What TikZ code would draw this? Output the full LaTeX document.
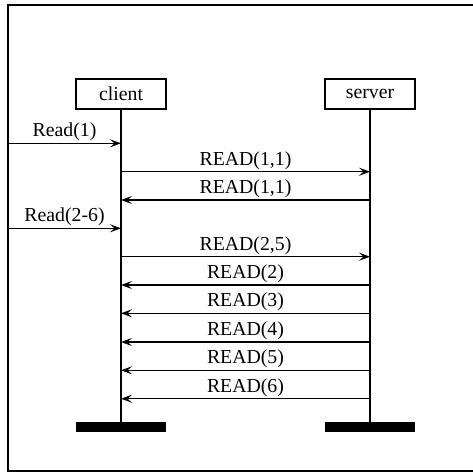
\documentclass[tikz,border=0pt]{standalone}
\usepackage{fontspec}
\setmainfont{Liberation Serif}
\usetikzlibrary{arrows.meta}
\begin{document}
\begin{tikzpicture}[x=1pt,y=-1pt,
  every node/.style={font=\fontsize{19.8}{22}\selectfont},
  actor/.style={draw,line width=1.2pt,minimum width=90pt,minimum height=30pt,inner sep=0pt},
  endbar/.style={fill=black,draw=none,minimum width=90pt,minimum height=10.6pt,inner sep=0pt},
  lifeline/.style={line width=1.2pt},
  msg/.style={line width=1.2pt,-{Stealth[length=11pt,width=8pt,inset=4.5pt]}},
  lbl/.style={above,inner sep=1.5pt}]
  \useasboundingbox (0,0) rectangle (473,472);
  % frame, open on the right
  \draw[line width=1.4pt] (495,5) -- (8,5) -- (8,471) -- (495,471);

  % participants
  \node[actor] (client) at (121,94) {client};
  \node[actor] (server) at (370,94) {server};
  \node[endbar] (cbar) at (121,427) {};
  \node[endbar] (sbar) at (370,427) {};
  \draw[lifeline] (client.south) -- (cbar.north);
  \draw[lifeline] (server.south) -- (sbar.north);

  % message levels on the lifelines
  \foreach \n/\y in {1/143.3,2/171.7,3/200,4/228.3,5/256.7,6/285,7/313.3,8/342,9/370.3,10/398.7}{
    \coordinate (c\n) at (121,\y);
    \coordinate (s\n) at (370,\y);
  }
  \coordinate (in1) at (8,143.3);
  \coordinate (in4) at (8,228.3);

  % messages
  \draw[msg] (in1) -- node[lbl] {Read(1)} (c1);
  \draw[msg] (c2) -- node[lbl] {READ(1,1)} (s2);
  \draw[msg] (s3) -- node[lbl] {READ(1,1)} (c3);
  \draw[msg] (in4) -- node[lbl] {Read(2-6)} (c4);
  \draw[msg] (c5) -- node[lbl] {READ(2,5)} (s5);
  \draw[msg] (s6) -- node[lbl] {READ(2)} (c6);
  \draw[msg] (s7) -- node[lbl] {READ(3)} (c7);
  \draw[msg] (s8) -- node[lbl] {READ(4)} (c8);
  \draw[msg] (s9) -- node[lbl] {READ(5)} (c9);
  \draw[msg] (s10) -- node[lbl] {READ(6)} (c10);
\end{tikzpicture}
\end{document}
